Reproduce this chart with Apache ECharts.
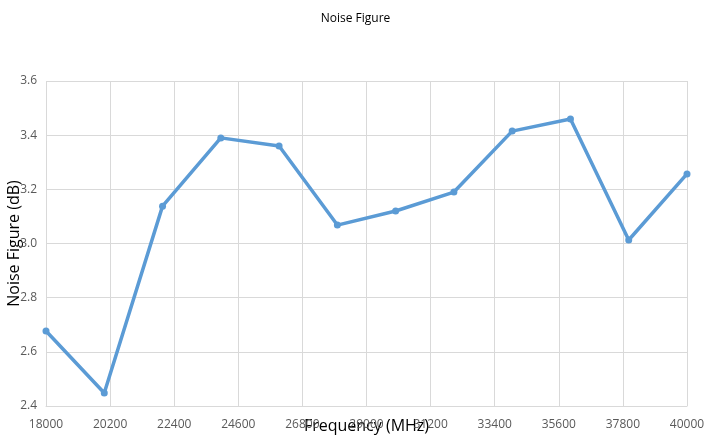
<!DOCTYPE html>
<html>
<head>
<meta charset="utf-8">
<script src="https://cdn.jsdelivr.net/npm/echarts@6/dist/echarts.min.js"></script>
<style>
  html, body { margin: 0; padding: 0; background: #fff; }
  #chart { width: 711px; height: 437px; }
</style>
</head>
<body>
<div id="chart"></div>
<script>
// tick labels on the frequency axis
var xTicks = ['18000', '20200', '22400', '24600', '26800', '29000', '31200', '33400', '35600', '37800', '40000'];
// measured points
var freq = [18000, 20000, 22000, 24000, 26000, 28000, 30000, 32000, 34000, 36000, 38000, 40000];
var nf = [2.677, 2.448, 3.138, 3.39, 3.36, 3.068, 3.12, 3.19, 3.415, 3.46, 3.013, 3.257];

var font = 'Open Sans';
var chart = echarts.init(document.getElementById('chart'));
chart.setOption({
  animation: false,
  title: {
    text: 'Noise Figure',
    left: 'center',
    top: 8,
    textStyle: { fontFamily: font, fontSize: 12, fontWeight: 'normal', color: '#000' }
  },
  grid: { left: 46, right: 24, top: 81, bottom: 31, containLabel: false, outerBoundsMode: 'none' },
  xAxis: [
    {
      // visible axis: labels and vertical gridlines
      type: 'category',
      data: xTicks,
      boundaryGap: false,
      name: 'Frequency (MHz)',
      nameLocation: 'middle',
      nameGap: 12,
      nameMoveOverlap: false,
      nameTextStyle: { fontFamily: font, fontSize: 16, color: '#000' },
      axisLine: { lineStyle: { color: '#d9d9d9' } },
      axisTick: { show: false },
      axisLabel: { fontFamily: font, fontSize: 12, color: '#595959', margin: 13 },
      splitLine: { show: true, lineStyle: { color: '#d9d9d9' } }
    },
    {
      // hidden value axis that places the points
      type: 'value',
      min: 18000,
      max: 40000,
      show: false
    }
  ],
  yAxis: {
    type: 'value',
    min: 2.4,
    max: 3.6,
    interval: 0.2,
    name: 'Noise Figure (dB)',
    nameLocation: 'middle',
    nameGap: 24,
    nameMoveOverlap: false,
    nameTextStyle: { fontFamily: font, fontSize: 16, color: '#000' },
    axisLine: { show: false },
    axisTick: { show: false },
    axisLabel: {
      fontFamily: font, fontSize: 12, color: '#595959', margin: 9,
      formatter: function (v) { return v.toFixed(1); }
    },
    splitLine: { lineStyle: { color: '#d9d9d9' } }
  },
  series: [{
    type: 'line',
    xAxisIndex: 1,
    data: freq.map(function (f, i) { return [f, nf[i]]; }),
    symbol: 'circle',
    symbolSize: 7,
    lineStyle: { color: '#5b9bd5', width: 3.5 },
    itemStyle: { color: '#5b9bd5' }
  }]
});
</script>
</body>
</html>
